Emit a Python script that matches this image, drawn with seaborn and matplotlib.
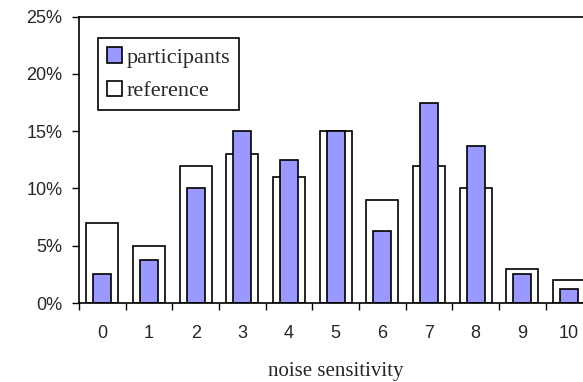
import matplotlib
matplotlib.use("Agg")
import matplotlib.pyplot as plt
from matplotlib.patches import Patch
from matplotlib.ticker import PercentFormatter, FixedLocator
import seaborn as sns
import pandas as pd

# Distribution of noise-sensitivity scores (percent of each group)
scores = [0, 1, 2, 3, 4, 5, 6, 7, 8, 9, 10]
participants = [2.5, 3.75, 10, 15, 12.5, 15, 6.25, 17.5, 13.75, 2.5, 1.25]
reference = [7, 5, 12, 13, 11, 15, 9, 12, 10, 3, 2]
y_ticks = [0, 5, 10, 15, 20, 25]

sns.set_style("ticks")
plt.rcParams["font.family"] = ["Liberation Sans", "DejaVu Sans"]

df = pd.DataFrame({"score": [str(s) for s in scores],
                   "participants": participants,
                   "reference": reference})
order = [str(s) for s in scores]

fig = plt.figure(figsize=(5.83, 3.82), dpi=100)
ax = fig.add_axes([0.1355, 0.2068, 0.8805, 0.7495])

blue = "#9999FF"
sns.barplot(data=df, x="score", y="reference", order=order, ax=ax,
            color="white", edgecolor="black", linewidth=1.2, width=0.686,
            saturation=1)
sns.barplot(data=df, x="score", y="participants", order=order, ax=ax,
            color=blue, edgecolor="black", linewidth=1.2, width=0.39,
            saturation=1)

ax.set_xlim(-0.5, len(scores) - 0.5)
ax.set_ylim(0, 25)
ax.yaxis.set_major_locator(FixedLocator(y_ticks))
ax.yaxis.set_major_formatter(PercentFormatter(xmax=100, decimals=0))

# category boundaries carry the tick marks, labels sit at the centres
ax.set_xticks([i - 0.5 for i in range(len(scores) + 1)], minor=True)
ax.tick_params(axis="x", which="major", length=0, pad=16, labelsize=13)
ax.tick_params(axis="x", which="minor", length=5, width=1, color="black",
               direction="out")
ax.tick_params(axis="y", length=5, width=1, color="black", pad=7,
               labelsize=13)

ax.set_ylabel("")
ax.set_xlabel("noise sensitivity", family=["Liberation Serif"],
              fontsize=15, labelpad=14)

for side in ["left", "top", "bottom", "right"]:
    ax.spines[side].set_visible(True)
    ax.spines[side].set_color("black")
    ax.spines[side].set_linewidth(1.2)

handles = [Patch(facecolor=blue, edgecolor="black", linewidth=1.2,
                 label="participants"),
           Patch(facecolor="white", edgecolor="black", linewidth=1.2,
                 label="reference")]
leg = ax.legend(handles=handles, loc="upper left",
                bbox_to_anchor=(0.037, 0.925), frameon=True, fancybox=False,
                shadow=False, framealpha=1, edgecolor="black",
                prop={"family": "Liberation Serif", "size": 16},
                handlelength=0.7, handleheight=0.7, handletextpad=0.2,
                labelspacing=0.6, borderpad=0.4, borderaxespad=0)
leg.get_frame().set_linewidth(1.2)

fig.savefig("out.png", dpi=100)
